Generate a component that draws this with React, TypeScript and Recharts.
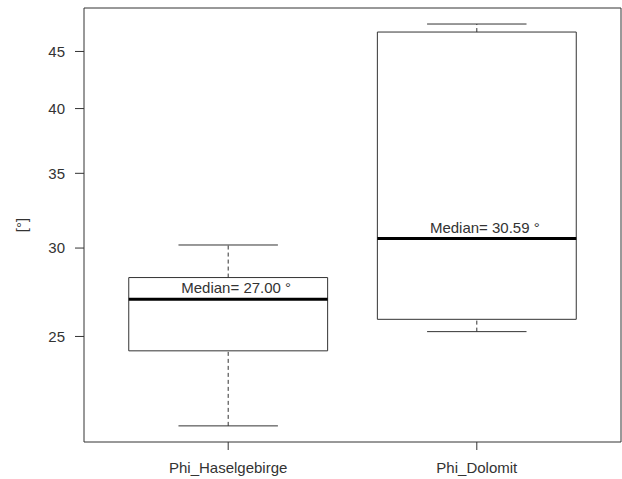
import React from "react";
import {
  ComposedChart,
  XAxis,
  YAxis,
  Scatter,
  ReferenceArea,
  ReferenceLine,
} from "recharts";

const categories = ["Phi_Haselgebirge", "Phi_Dolomit"];
const whiskerLow = [20.79, 25.25];
const q1 = [24.27, 25.9];
const median = [27.0, 30.59];
const q3 = [28.23, 46.84];
const whiskerHigh = [30.19, 47.62];
const yTicks = [25, 30, 35, 40, 45];

const X_DOMAIN = [0.42, 2.58];
const Y_DOMAIN = [20.11, 49.22];

const INK = "#333";
const FONT = "'Liberation Sans', Arial, sans-serif";
const BOX_HALF = 0.4;
const CAP_HALF = 0.2;

const boxes = categories.map((name, i) => ({
  name,
  x: i + 1,
  lo: whiskerLow[i],
  q1: q1[i],
  med: median[i],
  q3: q3[i],
  hi: whiskerHigh[i],
}));

const MedianLabel = (props: any) => {
  const vb = props.viewBox || {};
  const cx = vb.x + (vb.width || 0) / 2 + 8;
  return (
    <text
      x={cx}
      y={vb.y - 6}
      textAnchor="middle"
      fontFamily={FONT}
      fontSize={15}
      fill={INK}
    >
      {props.value}
    </text>
  );
};

const YLabel = (props: any) => {
  const vb = props.viewBox || {};
  const cy = vb.y + vb.height / 2;
  return (
    <text
      x={21}
      y={cy}
      transform={`rotate(-90, 21, ${cy})`}
      textAnchor="middle"
      dominantBaseline="central"
      fontFamily={FONT}
      fontSize={15}
      fill={INK}
    >
      [°]
    </text>
  );
};

export default function App() {
  return (
    <div style={{ position: "absolute", left: 0, top: 0, background: "#fff" }}>
      <ComposedChart
        width={622}
        height={479}
        data={boxes}
        margin={{ top: 8, right: 1, bottom: 0, left: 0 }}
      >
        <XAxis
          type="number"
          dataKey="x"
          domain={X_DOMAIN}
          ticks={[1, 2]}
          tickFormatter={(v: number) => categories[v - 1]}
          height={37}
          axisLine={false}
          tickSize={8}
          tickMargin={12}
          tickLine={{ stroke: INK }}
          tick={{ fontFamily: FONT, fontSize: 15, fill: INK }}
          allowDataOverflow
        />
        <YAxis
          type="number"
          scale="log"
          domain={Y_DOMAIN}
          ticks={yTicks}
          width={84}
          axisLine={false}
          tickSize={9}
          tickMargin={10}
          tickLine={{ stroke: INK }}
          tick={{ fontFamily: FONT, fontSize: 15, fill: INK }}
          allowDataOverflow
          label={<YLabel />}
        />
        <ReferenceArea
          x1={X_DOMAIN[0]}
          x2={X_DOMAIN[1]}
          y1={Y_DOMAIN[0]}
          y2={Y_DOMAIN[1]}
          fill="none"
          stroke={INK}
          strokeWidth={1}
          ifOverflow="visible"
        />
        {boxes.map((b) => (
          <React.Fragment key={b.name}>
            <ReferenceLine
              segment={[
                { x: b.x, y: b.q3 },
                { x: b.x, y: b.hi },
              ]}
              stroke={INK}
              strokeDasharray="4 3"
            />
            <ReferenceLine
              segment={[
                { x: b.x, y: b.lo },
                { x: b.x, y: b.q1 },
              ]}
              stroke={INK}
              strokeDasharray="4 3"
            />
            <ReferenceLine
              segment={[
                { x: b.x - CAP_HALF, y: b.hi },
                { x: b.x + CAP_HALF, y: b.hi },
              ]}
              stroke={INK}
            />
            <ReferenceLine
              segment={[
                { x: b.x - CAP_HALF, y: b.lo },
                { x: b.x + CAP_HALF, y: b.lo },
              ]}
              stroke={INK}
            />
            <ReferenceArea
              x1={b.x - BOX_HALF}
              x2={b.x + BOX_HALF}
              y1={b.q1}
              y2={b.q3}
              fill="#fff"
              fillOpacity={1}
              stroke={INK}
              strokeWidth={1}
            />
            <ReferenceLine
              segment={[
                { x: b.x - BOX_HALF, y: b.med },
                { x: b.x + BOX_HALF, y: b.med },
              ]}
              stroke="#000"
              strokeWidth={3}
              label={<MedianLabel value={`Median= ${b.med.toFixed(2)} °`} />}
            />
          </React.Fragment>
        ))}
        <Scatter
          dataKey="med"
          isAnimationActive={false}
          shape={() => <g />}
        />
      </ComposedChart>
    </div>
  );
}
